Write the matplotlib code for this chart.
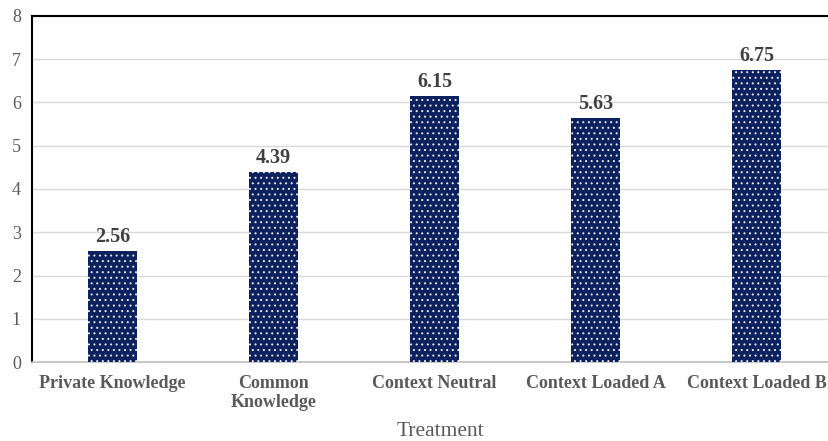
import matplotlib
matplotlib.use("Agg")
import matplotlib.pyplot as plt

categories = ["Private Knowledge", "Common\nKnowledge", "Context Neutral", "Context Loaded A", "Context Loaded B"]
values = [2.56, 4.39, 6.15, 5.63, 6.75]
yticks = [0, 1, 2, 3, 4, 5, 6, 7, 8]

plt.rcParams['font.family'] = ['Liberation Serif', 'DejaVu Serif']
plt.rcParams['hatch.linewidth'] = 0.7

fig = plt.figure(figsize=(8.29, 4.41), dpi=100)
ax = fig.add_axes([0.0386, 0.179, 0.971, 0.785])

x = list(range(len(categories)))
bars = ax.bar(x, values, width=0.31, color='#0c215e', edgecolor='#e8ecf4', linewidth=0, hatch='...', zorder=3)
for xi, v in zip(x, values):
    ax.text(xi, v + 0.1, f"{v:.2f}", ha='center', va='bottom', fontsize=14.5,
            fontweight='bold', color='#404040')

ax.set_xlim(-0.5, 4.5)
ax.set_ylim(0, 8)
ax.set_yticks(yticks)
ax.set_yticklabels([str(t) for t in yticks], fontsize=13, color='#595959')
ax.set_xticks(x)
ax.set_xticklabels(categories, fontsize=13, fontweight='bold', color='#595959', linespacing=1.2)
ax.tick_params(axis='both', length=0, pad=8)
ax.tick_params(axis='x', pad=9)
ax.grid(axis='y', color='#d9d9d9', linewidth=1, zorder=0)
ax.spines['right'].set_visible(False)
ax.spines['left'].set_color('black')
ax.spines['left'].set_linewidth(1.5)
ax.spines['top'].set_color('black')
ax.spines['top'].set_linewidth(1.5)
ax.spines['bottom'].set_color('#bfbfbf')
ax.spines['bottom'].set_linewidth(1.2)
ax.set_xlabel("Treatment", fontsize=15.5, color='#595959')
ax.xaxis.set_label_coords((440 / 829 - 0.0386) / 0.971, -0.174)
fig.savefig("out.png", dpi=100)
